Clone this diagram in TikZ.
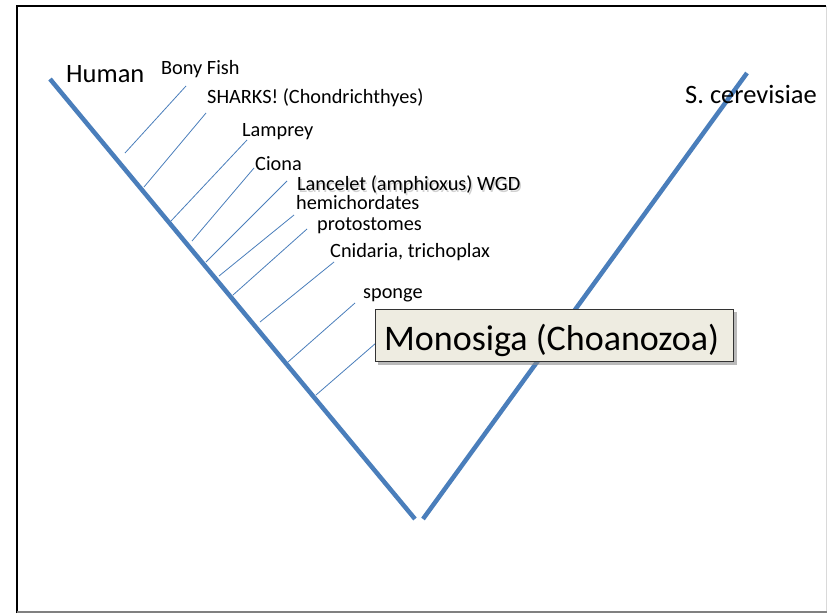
\documentclass[tikz,border=0pt]{standalone}
\usepackage{fontspec}
\setmainfont{Carlito}
\definecolor{treeblue}{HTML}{4A7EBB}
\definecolor{boxfill}{HTML}{EEECE1}
\begin{document}
\begin{tikzpicture}[x=1pt,y=-1pt,
  trunk/.style={draw=treeblue, line width=4.5pt},
  twig/.style={draw=treeblue, line width=0.8pt},
  lbl/.style={anchor=base west, inner sep=0pt, font=\fontsize{20.3}{24}\selectfont},
  biglbl/.style={anchor=base west, inner sep=0pt, font=\fontsize{26.5}{30}\selectfont},
]
\useasboundingbox (0,0) rectangle (827,613);
% slide frame
\draw[black, line width=2pt] (17,613) -- (17,6) -- (826,6);
\draw[black!15, line width=1pt] (826,6) -- (826,612);
\draw[black!50, line width=2pt] (17,612) -- (827,612);

% trunk lines
\coordinate (hl) at (50,79);
\coordinate (vl) at (415,519);
\coordinate (vr) at (423,519);
\coordinate (yr) at (747,73);
\draw[trunk] (hl) -- (vl);
\draw[trunk] (vr) -- (yr);

% branch coordinates
\coordinate (b1a) at (125,153);   \coordinate (b1b) at (186,86);
\coordinate (b2a) at (144,187);   \coordinate (b2b) at (206,113);
\coordinate (b3a) at (171,221);   \coordinate (b3b) at (247,140);
\coordinate (b4a) at (192,241);   \coordinate (b4b) at (254,168);
\coordinate (b5a) at (206,262);   \coordinate (b5b) at (287,181);
\coordinate (b6a) at (219,276);   \coordinate (b6b) at (294,215);
\coordinate (b7a) at (233,295);   \coordinate (b7b) at (307,229);
\coordinate (b8a) at (260,322);   \coordinate (b8b) at (334,262);
\coordinate (b9a) at (288,362);   \coordinate (b9b) at (355,303);
\coordinate (b10a) at (316,395);  \coordinate (b10b) at (376,343);
\foreach \i in {1,...,10} {\draw[twig] (b\i a) -- (b\i b);}

% labels
\node[biglbl] (human) at (66,82) {Human};
\node[lbl] (bony) at (161,74) {Bony Fish};
\node[lbl] (sharks) at (207,103) {SHARKS! (Chondrichthyes)};
\node[lbl] (lamprey) at (242,136) {Lamprey};
\node[lbl] (ciona) at (255,170) {Ciona};
\node[lbl] (lancelet) at (297,190)
  {\rlap{\hspace{1.5pt}\raisebox{-2pt}{\color{black!18}Lancelet (amphioxus) WGD}}Lancelet (amphioxus) WGD};
\node[lbl] (hemi) at (296,209.5) {hemichordates};
\node[lbl] (proto) at (317,230) {protostomes};
\node[lbl] (cnid) at (330,257) {Cnidaria, trichoplax};
\node[lbl] (sponge) at (363,298) {sponge};
\node[biglbl] (yeast) at (685,103) {S. cerevisiae};

% Monosiga box with shadow
\fill[black!45, opacity=0.6] (378,312) rectangle (737,365);
\node[anchor=north west, draw=black!80, line width=0.9pt, fill=boxfill,
      minimum width=358pt, minimum height=52pt, inner sep=0pt] (monobox) at (375,309) {};
\node[anchor=base west, inner sep=0pt, font=\fontsize{36}{40}\selectfont] (monosiga)
      at (384,350) {Monosiga (Choanozoa)};
\end{tikzpicture}
\end{document}
